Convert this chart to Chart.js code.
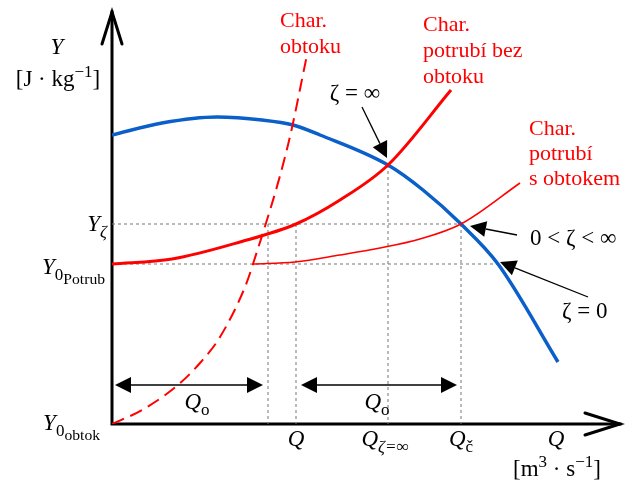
<!DOCTYPE html>
<html>
<head>
<meta charset="utf-8">
<script src="https://cdn.jsdelivr.net/npm/chart.js@4.4.0/dist/chart.umd.min.js"></script>
<style>
  html, body { margin: 0; padding: 0; background: #fff; }
  #wrap { width: 636px; height: 481px; position: relative; }
</style>
</head>
<body>
<div id="wrap"><canvas id="c"></canvas></div>
<script>
// Charakteristiky čerpadla a potrubí s obtokem (schematické jednotky Q, Y)
const Q_MAX = 508, Y_MAX = 412;

// čerpadlo (ζ = 0)
const pumpQ = [0, 50, 105, 150, 181, 208, 276, 311, 349, 386, 446];
const pumpY = [289, 301, 307, 304, 299, 289, 259, 234, 200, 160, 62];
// potrubí bez obtoku
const pipeQ = [0, 60, 128, 184, 228, 276, 339];
const pipeY = [160, 165, 182, 200, 224, 259, 334];
// potrubí s obtokem
const pipeBypassQ = [141, 183, 228, 268, 308, 349, 408];
const pipeBypassY = [160, 162, 169, 176, 185, 200, 241];
// obtok
const bypassQ = [0, 30, 66, 88, 108, 133, 141, 176, 195];
const bypassY = [0, 14, 39, 61, 87, 137, 160, 279, 369];

// význačné body
const Y_ZETA = 200, Y0_POTRUB = 160, Y_ZETA_INF = 259;
const Q_O_EDGE = 156, Q_OP = 184, Q_ZETA_INF = 276, Q_C = 349, Q_ZETA0 = 386;

const SERIF = '"Liberation Serif", "DejaVu Serif", serif';
const RED = "#ff0000", BLUE = "#0b5fc8", GUIDE = "#777";

const pts = (xs, ys) => xs.map((x, i) => ({ x, y: ys[i] }));
const seg = (x1, y1, x2, y2) => [{ x: x1, y: y1 }, { x: x2, y: y2 }];

function curve(data, color, width, order, dash) {
  return {
    data, borderColor: color, borderWidth: width, borderDash: dash || [],
    showLine: true, pointRadius: 0, fill: false, order,
    cubicInterpolationMode: "monotone",
  };
}
function guide(data) {
  return {
    data, borderColor: GUIDE, borderWidth: 1, borderDash: [3, 3],
    showLine: true, pointRadius: 0, fill: false, order: 10, tension: 0,
  };
}

// text s indexy: t = text, i = kurzíva, l = úroveň (1 index, 2 index indexu, -1 exponent)
function fontOf(p, size) {
  const s = p.l === 2 ? size * 0.68 : p.l ? size * 0.74 : size;
  return `${p.i ? "italic " : ""}${s}px ${SERIF}`;
}
function runW(ctx, parts, size) {
  let w = 0;
  parts.forEach(p => { ctx.font = fontOf(p, size); w += ctx.measureText(p.t).width; });
  return w;
}
function drawRuns(ctx, parts, x, y, size, align, color) {
  const w = runW(ctx, parts, size);
  let cx = align === "center" ? x - w / 2 : align === "right" ? x - w : x;
  ctx.fillStyle = color || "#000";
  ctx.textAlign = "left";
  ctx.textBaseline = "alphabetic";
  parts.forEach(p => {
    ctx.font = fontOf(p, size);
    const dy = p.l === 1 ? size * 0.24 : p.l === 2 ? size * 0.42 : p.l === -1 ? -size * 0.4 : 0;
    ctx.fillText(p.t, cx, y + dy);
    cx += ctx.measureText(p.t).width;
  });
}

function arrowHead(ctx, x1, y1, x2, y2, len, half) {
  const a = Math.atan2(y2 - y1, x2 - x1);
  ctx.beginPath();
  ctx.moveTo(x2, y2);
  ctx.lineTo(x2 - len * Math.cos(a) + half * Math.sin(a), y2 - len * Math.sin(a) - half * Math.cos(a));
  ctx.lineTo(x2 - len * Math.cos(a) - half * Math.sin(a), y2 - len * Math.sin(a) + half * Math.cos(a));
  ctx.closePath();
  ctx.fill();
}
function arrow(ctx, x1, y1, x2, y2, both) {
  const len = 16, half = 8;
  const a = Math.atan2(y2 - y1, x2 - x1);
  ctx.beginPath();
  ctx.moveTo(both ? x1 + len * Math.cos(a) : x1, both ? y1 + len * Math.sin(a) : y1);
  ctx.lineTo(x2 - len * Math.cos(a), y2 - len * Math.sin(a));
  ctx.stroke();
  arrowHead(ctx, x1, y1, x2, y2, len, half);
  if (both) arrowHead(ctx, x2, y2, x1, y1, len, half);
}

// popisky v souřadnicích grafu
const I = t => ({ t, i: true }), N = t => ({ t }), S = (t, i) => ({ t, i, l: 1 }),
      SS = t => ({ t, l: 2 }), P = t => ({ t, l: -1 });
const blackLabels = [
  { q: -55, y: 370, align: "center", parts: [I("Y")] },
  { q: -54, y: 338, align: "center", parts: [N("[J · kg"), P("−1"), N("]")] },
  { q: -5, y: 193, align: "right", parts: [I("Y"), S("ζ", true)] },
  { q: -7, y: 150, align: "right", parts: [I("Y"), S("0"), SS("Potrub")] },
  { q: -12, y: -6, align: "right", parts: [I("Y"), S("0"), SS("obtok")] },
  { q: Q_OP, y: -22, align: "center", parts: [I("Q")] },
  { q: 273, y: -22, align: "center", parts: [I("Q"), S("ζ=∞", true)] },
  { q: Q_C, y: -22, align: "center", parts: [I("Q"), S("č")] },
  { q: 444, y: -22, align: "center", parts: [I("Q")] },
  { q: 445, y: -52, align: "center", parts: [N("[m"), P("3"), N(" · s"), P("−1"), N("]")] },
  { q: 85, y: 15, align: "center", parts: [I("Q"), S("o")] },
  { q: 265, y: 15, align: "center", parts: [I("Q"), S("o")] },
  { q: 243, y: 324, align: "center", parts: [N("ζ = ∞")] },
  { q: 418, y: 179, align: "left", parts: [N("0 < ζ < ∞")] },
  { q: 450, y: 106, align: "left", parts: [N("ζ = 0")] },
];
const redLabels = [
  { q: 168, y: [397, 371], lines: ["Char.", "obtoku"] },
  { q: 311, y: [393, 367, 341], lines: ["Char.", "potrubí bez", "obtoku"] },
  { q: 417, y: [289, 264, 239], lines: ["Char.", "potrubí", "s obtokem"] },
];
const pointers = [
  [250, 317, Q_ZETA_INF - 1, Y_ZETA_INF + 7],
  [405, 189, 358, 198],
  [476, 127, 388, 162],
];
const spans = [[3, 151, 39], [189, 345, 39]];

const annotate = {
  id: "annotate",
  beforeDatasetsDraw(chart) {
    const { ctx, scales: { x, y } } = chart;
    const ox = x.getPixelForValue(0), oy = y.getPixelForValue(0);
    const tx = x.getPixelForValue(Q_MAX), ty = y.getPixelForValue(Y_MAX);
    ctx.save();
    ctx.strokeStyle = "#000";
    ctx.lineWidth = 3;
    ctx.lineCap = "square";
    ctx.beginPath();
    ctx.moveTo(ox, ty); ctx.lineTo(ox, oy); ctx.lineTo(tx, oy);
    ctx.stroke();
    ctx.lineCap = "round";
    ctx.beginPath();
    ctx.moveTo(ox - 10, ty + 32); ctx.lineTo(ox, ty); ctx.lineTo(ox + 10, ty + 32);
    ctx.moveTo(tx - 35, oy - 11); ctx.lineTo(tx, oy); ctx.lineTo(tx - 35, oy + 11);
    ctx.stroke();
    ctx.restore();
  },
  afterDatasetsDraw(chart) {
    const { ctx, scales: { x, y } } = chart;
    const px = q => x.getPixelForValue(q), py = v => y.getPixelForValue(v);
    ctx.save();
    ctx.strokeStyle = "#000";
    ctx.fillStyle = "#000";
    ctx.lineWidth = 1.3;
    pointers.forEach(([q1, y1, q2, y2]) => arrow(ctx, px(q1), py(y1), px(q2), py(y2), false));
    spans.forEach(([q1, q2, v]) => arrow(ctx, px(q1), py(v), px(q2), py(v), true));
    blackLabels.forEach(l => drawRuns(ctx, l.parts, px(l.q), py(l.y), 23, l.align, "#000"));
    redLabels.forEach(l => l.lines.forEach((t, i) =>
      drawRuns(ctx, [N(t)], px(l.q), py(l.y[i]), 22, "left", RED)));
    ctx.restore();
  },
};

new Chart(document.getElementById("c"), {
  type: "scatter",
  data: {
    datasets: [
      curve(pts(pipeQ, pipeY), RED, 3, 1),
      curve(pts(pipeBypassQ, pipeBypassY), RED, 1.6, 2),
      curve(pts(bypassQ, bypassY), RED, 2, 3, [13, 7]),
      curve(pts(pumpQ, pumpY), BLUE, 3.5, 4),
      guide(seg(0, Y_ZETA, Q_C, Y_ZETA)),
      guide(seg(0, Y0_POTRUB, Q_ZETA0, Y0_POTRUB)),
      guide(seg(Q_O_EDGE, Y_ZETA, Q_O_EDGE, 0)),
      guide(seg(Q_OP, Y_ZETA, Q_OP, 0)),
      guide(seg(Q_ZETA_INF, Y_ZETA_INF, Q_ZETA_INF, 0)),
      guide(seg(Q_C, Y_ZETA, Q_C, 0)),
    ],
  },
  options: {
    responsive: true,
    maintainAspectRatio: false,
    animation: false,
    layout: { padding: { left: 112, right: 16, top: 12, bottom: 57 } },
    plugins: { legend: { display: false }, tooltip: { enabled: false } },
    scales: {
      x: { type: "linear", display: false, min: 0, max: Q_MAX },
      y: { type: "linear", display: false, min: 0, max: Y_MAX },
    },
  },
  plugins: [annotate],
});
</script>
</body>
</html>
